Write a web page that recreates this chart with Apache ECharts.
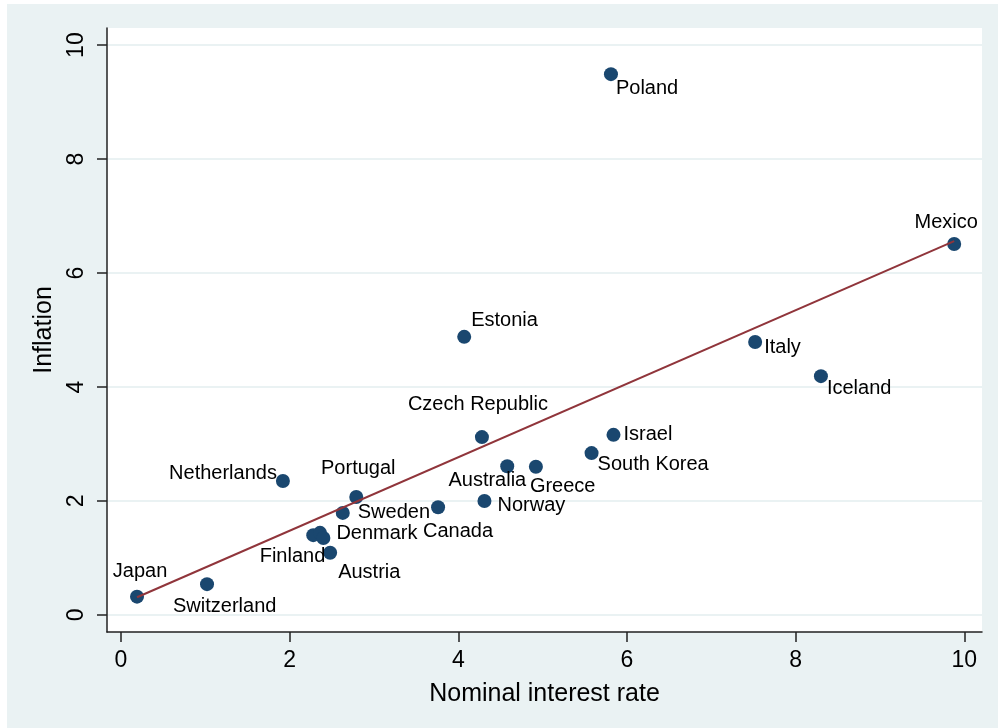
<!DOCTYPE html>
<html>
<head>
<meta charset="utf-8">
<script src="https://cdn.jsdelivr.net/npm/echarts@6/dist/echarts.min.js"></script>
<style>
  html, body { margin: 0; padding: 0; background: #fff; }
  #chart { position: absolute; left: 7px; top: 4px; width: 991px; height: 724px; }
</style>
</head>
<body>
<div id="chart"></div>
<script>
  // countries, nominal interest rate (x) and inflation (y)
  var countries = ['Poland', 'Mexico', 'Estonia', 'Italy', 'Iceland', 'Czech Republic', 'Israel',
    'South Korea', 'Australia', 'Greece', 'Netherlands', 'Portugal', 'Sweden', 'Canada', 'Norway',
    'Finland', '', 'Denmark', 'Austria', 'Japan', 'Switzerland']
  var rate = [5.81, 9.88, 4.07, 7.52, 8.30, 4.28, 5.84, 5.58, 4.58, 4.92, 1.92, 2.79, 2.63, 3.76, 4.31,
    2.28, 2.36, 2.40, 2.48, 0.19, 1.02]
  var inflation = [9.49, 6.51, 4.88, 4.79, 4.19, 3.12, 3.16, 2.84, 2.61, 2.60, 2.35, 2.07, 1.79, 1.89, 2.00,
    1.40, 1.44, 1.35, 1.09, 0.32, 0.54]

  // fitted line end points
  var fitX = [0.19, 9.88]
  var fitY = [0.31, 6.56]

  var xTicks = [0, 2, 4, 6, 8, 10]
  var yTicks = [0, 2, 4, 6, 8, 10]

  // where each marker label sits (align, dx, dy) relative to the marker
  var labelPlace = {
    'Poland': ['left', 5, 14],
    'Mexico': ['center', -8, -21],
    'Estonia': ['left', 7, -16],
    'Italy': ['left', 9, 6],
    'Iceland': ['left', 6, 12],
    'Czech Republic': ['center', -4, -33],
    'Israel': ['left', 10, 0],
    'South Korea': ['left', 6, 11],
    'Australia': ['right', 19, 14],
    'Greece': ['left', -6, 20],
    'Netherlands': ['right', -6, -8],
    'Portugal': ['center', 2, -28],
    'Sweden': ['left', 15, 0],
    'Canada': ['center', 20, 24],
    'Norway': ['left', 13, 5],
    'Denmark': ['left', 13, -4],
    'Finland': ['right', 12, 21],
    'Austria': ['left', 8, 20],
    'Japan': ['center', 3, -25],
    'Switzerland': ['left', -34, 22]
  }

  var font = '"Liberation Sans", Arial, Helvetica, sans-serif'

  var points = []
  for (var i = 0; i < countries.length; i++) {
    var p = labelPlace[countries[i]] || ['center', 0, 0]
    points.push({
      name: countries[i],
      value: [rate[i], inflation[i]],
      label: { align: p[0], offset: [p[1], p[2]] }
    })
  }

  var fitData = []
  for (var j = 0; j < fitX.length; j++) fitData.push([fitX[j], fitY[j]])

  var gridLines = []
  for (var k = 0; k < yTicks.length; k++) gridLines.push({ yAxis: yTicks[k] })

  var chart = echarts.init(document.getElementById('chart'))
  chart.setOption({
    backgroundColor: '#EAF2F3',
    animation: false,
    grid: {
      left: 100, top: 24, right: 16, bottom: 96,
      show: true, backgroundColor: '#fff', borderWidth: 0
    },
    xAxis: {
      type: 'value',
      min: -0.166,
      max: 10.21,
      name: 'Nominal interest rate',
      nameLocation: 'middle',
      nameGap: 50,
      nameTextStyle: { fontFamily: font, fontSize: 25, color: '#000' },
      axisLine: { show: true, onZero: false, lineStyle: { color: '#222', width: 1.5 } },
      axisTick: { show: true, length: 10, customValues: xTicks, lineStyle: { color: '#222', width: 1.5 } },
      axisLabel: { customValues: xTicks, margin: 17, fontFamily: font, fontSize: 23, color: '#000' },
      splitLine: { show: false }
    },
    yAxis: {
      type: 'value',
      min: -0.30,
      max: 10.30,
      name: 'Inflation',
      nameLocation: 'middle',
      nameGap: 45,
      nameTextStyle: { fontFamily: font, fontSize: 25, color: '#000' },
      axisLine: { show: true, onZero: false, lineStyle: { color: '#222', width: 1.5 } },
      axisTick: { show: true, length: 10, customValues: yTicks, lineStyle: { color: '#222', width: 1.5 } },
      axisLabel: { customValues: yTicks, rotate: 90, margin: 19, fontFamily: font, fontSize: 23, color: '#000' },
      splitLine: { show: false }
    },
    series: [{
      type: 'scatter',
      symbolSize: 14,
      itemStyle: { color: '#1A476F', opacity: 1 },
      label: {
        show: true,
        position: 'inside',
        formatter: '{b}',
        fontFamily: font,
        fontSize: 20,
        color: '#000'
      },
      markLine: {
        silent: true,
        symbol: 'none',
        label: { show: false },
        lineStyle: { color: '#EAF2F3', width: 2, type: 'solid' },
        z: 0,
        data: gridLines
      },
      data: points,
      z: 2
    }, {
      type: 'line',
      data: fitData,
      symbol: 'none',
      lineStyle: { color: '#90353B', width: 2 },
      z: 3
    }]
  })
</script>
</body>
</html>
